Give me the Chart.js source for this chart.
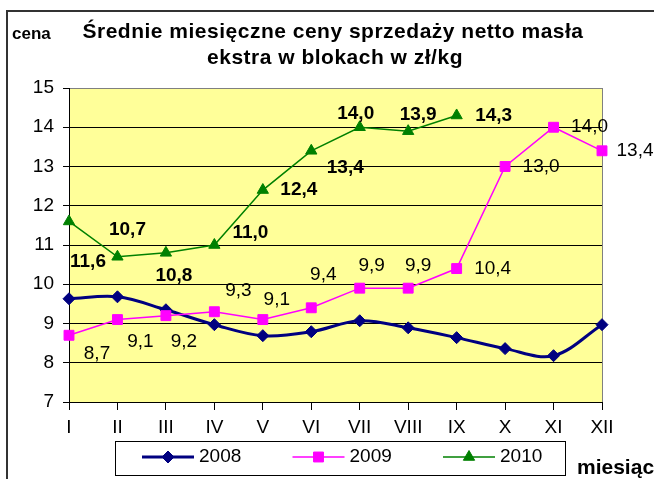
<!DOCTYPE html>
<html>
<head>
<meta charset="utf-8">
<script src="https://cdn.jsdelivr.net/npm/chart.js@4.4.1/dist/chart.umd.min.js"></script>
<style>
body{margin:0;background:#fff}
#wrap{width:654px;height:479px;position:relative}
</style>
</head>
<body>
<div id="wrap"><canvas id="graficoCeny"></canvas></div>
<script>
let miesiace = ['I','II','III','IV','V','VI','VII','VIII','IX','X','XI','XII']
let ceny2008 = [9.63, 9.68, 9.35, 8.97, 8.69, 8.79, 9.07, 8.89, 8.64, 8.36, 8.18, 8.97]
let ceny2009 = [8.7, 9.1, 9.2, 9.3, 9.1, 9.4, 9.9, 9.9, 10.4, 13.0, 14.0, 13.4]
let ceny2010 = [11.6, 10.7, 10.8, 11.0, 12.4, 13.4, 14.0, 13.9, 14.3, null, null, null]
let lata = ['2008', '2009', '2010']
let osY = {min: 7, max: 15, krok: 1}

let czcionka = "'Liberation Sans', Arial, sans-serif"
Chart.defaults.font.family = czcionka

// przesuniecia etykiet wartosci (dx, dy) wzgledem punktu
let przesuniecia2009 = [[28,18],[23,22],[18,26],[24,-21],[14,-20],[12,-33],[12,-22],[10,-22],[36,0],[36,0],[36,0],[33,0]]
let przesuniecia2010 = [[19,40],[10,-27],[8,23],[36,-12],[36,0],[34,17],[-4,-13],[10,-16],[37,0]]

function znacznik(ctx, styl, r, x, y, kolor) {
  ctx.save()
  ctx.fillStyle = kolor
  ctx.strokeStyle = kolor
  ctx.lineWidth = 1
  ctx.beginPath()
  if (styl == 'rectRot') {
    ctx.moveTo(x - r, y); ctx.lineTo(x, y - r); ctx.lineTo(x + r, y); ctx.lineTo(x, y + r)
  } else if (styl == 'rect') {
    let s = r * Math.SQRT1_2
    ctx.rect(x - s, y - s, 2 * s, 2 * s)
  } else {
    ctx.moveTo(x, y - r); ctx.lineTo(x + r * 0.866, y + r * 0.5); ctx.lineTo(x - r * 0.866, y + r * 0.5)
  }
  ctx.closePath()
  ctx.fill()
  ctx.stroke()
  ctx.restore()
}

let tlo = {
  id: 'tlo',
  beforeDraw(chart) {
    let ctx = chart.ctx, a = chart.chartArea
    ctx.save()
    ctx.fillStyle = '#fff'
    ctx.fillRect(0, 0, chart.width, chart.height)
    ctx.strokeStyle = '#333'
    ctx.lineWidth = 2
    ctx.strokeRect(7, 11, 700, 500)
    ctx.fillStyle = '#FFFF99'
    ctx.fillRect(a.left, a.top, a.right - a.left, a.bottom - a.top)
    ctx.strokeStyle = '#808080'
    ctx.lineWidth = 1
    ctx.strokeRect(a.left + 0.5, a.top + 0.5, a.right - a.left, a.bottom - a.top)
    ctx.restore()
  },
  afterDraw(chart) {
    let ctx = chart.ctx
    ctx.save()
    ctx.fillStyle = '#000'
    ctx.textAlign = 'center'
    ctx.textBaseline = 'alphabetic'
    ctx.font = 'bold 21px ' + czcionka
    ctx.letterSpacing = '0.5px'
    ctx.fillText('Średnie miesięczne ceny sprzedaży netto masła', 333, 38)
    ctx.fillText('ekstra w blokach w zł/kg', 335, 64)
    ctx.letterSpacing = '0px'
    ctx.textAlign = 'left'
    ctx.font = 'bold 17px ' + czcionka
    ctx.fillText('cena', 12, 39)
    ctx.font = 'bold 21px ' + czcionka
    ctx.fillText('miesiąc', 577, 474)

    // legenda
    ctx.strokeStyle = '#000'
    ctx.lineWidth = 1
    ctx.strokeRect(115.5, 441.5, 450, 34)
    chart.data.datasets.forEach((ds, i) => {
      let x0 = 142 + i * 150.5, y = 457
      ctx.strokeStyle = ds.borderColor
      ctx.lineWidth = ds.borderWidth
      ctx.beginPath()
      ctx.moveTo(x0, y)
      ctx.lineTo(x0 + 52, y)
      ctx.stroke()
      znacznik(ctx, ds.pointStyle, ds.pointRadius, x0 + 26, y, ds.borderColor)
      ctx.fillStyle = '#000'
      ctx.font = '19px ' + czcionka
      ctx.textBaseline = 'middle'
      ctx.fillText(ds.label, x0 + 57, y)
    })
    ctx.restore()
  }
}

let etykiety = {
  id: 'etykiety',
  afterDatasetsDraw(chart) {
    let ctx = chart.ctx
    let zestawy = [[1, przesuniecia2009, '19px '], [2, przesuniecia2010, 'bold 19px ']]
    ctx.save()
    ctx.fillStyle = '#000'
    ctx.textAlign = 'center'
    ctx.textBaseline = 'middle'
    zestawy.forEach(([idx, przes, styl]) => {
      let meta = chart.getDatasetMeta(idx)
      let dane = chart.data.datasets[idx].data
      ctx.font = styl + czcionka
      meta.data.forEach((p, i) => {
        if (dane[i] == null) return
        let tekst = dane[i].toFixed(1).replace('.', ',')
        ctx.fillText(tekst, p.x + przes[i][0], p.y + przes[i][1])
      })
    })
    ctx.restore()
  }
}

let grafico = new Chart(document.getElementById('graficoCeny'), {
  type: 'line',
  data: {
    labels: miesiace,
    datasets: [{
      label: lata[0],
      data: ceny2008,
      borderColor: '#000080',
      backgroundColor: '#000080',
      borderWidth: 3,
      tension: 0.35,
      pointStyle: 'rectRot',
      pointRadius: 6,
      pointBorderWidth: 1,
      order: 3,
      clip: false
    }, {
      label: lata[1],
      data: ceny2009,
      borderColor: '#FF00FF',
      backgroundColor: '#FF00FF',
      borderWidth: 1.5,
      tension: 0,
      pointStyle: 'rect',
      pointRadius: 7,
      pointBorderWidth: 1,
      order: 2,
      clip: false
    }, {
      label: lata[2],
      data: ceny2010,
      borderColor: '#008000',
      backgroundColor: '#008000',
      borderWidth: 1.5,
      tension: 0,
      pointStyle: 'triangle',
      pointRadius: 6.5,
      pointBorderWidth: 1,
      order: 1,
      clip: false
    }]
  },
  options: {
    responsive: true,
    maintainAspectRatio: false,
    animation: false,
    layout: {padding: {left: 0, top: 88, right: 52, bottom: 0}},
    plugins: {
      legend: {display: false},
      title: {display: false},
      tooltip: {enabled: false}
    },
    scales: {
      x: {
        offset: false,
        afterFit(s) { s.height = 77 },
        grid: {drawOnChartArea: false, drawTicks: true, tickLength: 8, color: '#000'},
        border: {color: '#000', width: 1},
        ticks: {color: '#000', font: {size: 19}, padding: 6, maxRotation: 0, autoSkip: false}
      },
      y: {
        min: osY.min,
        max: osY.max,
        afterFit(s) { s.width = 69 },
        grid: {
          color: c => c.tick && c.tick.value == osY.max ? '#808080' : '#000',
          tickColor: '#000',
          tickLength: 6
        },
        border: {color: '#000', width: 1},
        ticks: {stepSize: osY.krok, color: '#000', font: {size: 19}, padding: 9}
      }
    }
  },
  plugins: [tlo, etykiety]
})
</script>
</body>
</html>
